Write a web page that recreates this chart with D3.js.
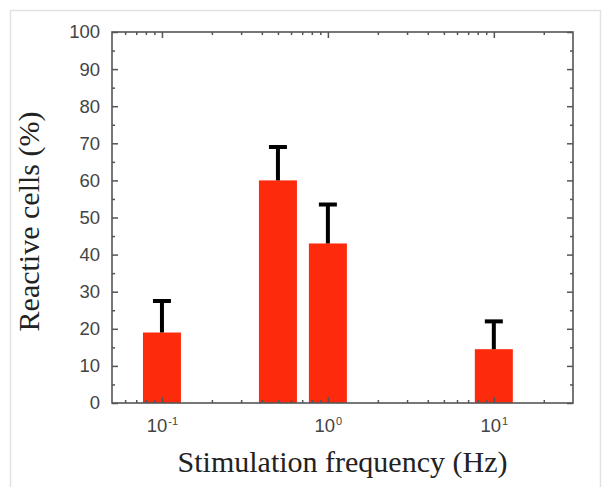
<!DOCTYPE html>
<html>
<head>
<meta charset="utf-8">
<script src="https://cdn.jsdelivr.net/npm/d3@7"></script>
<style>
  html, body { margin: 0; padding: 0; background: #fff; }
  svg { display: block; }
</style>
</head>
<body>
<script>
// ---- data ----
const frequencies = [0.1, 0.5, 1, 10];          // Hz
const reactiveCells = [19, 60, 43, 14.5];       // %
const errorUpper = [8.5, 9, 10.5, 7.5];         // %
const yMajorTicks = [0, 10, 20, 30, 40, 50, 60, 70, 80, 90, 100];
const yMinorTicks = [5, 15, 25, 35, 45, 55, 65, 75, 85, 95];
const xMajorTicks = [0.1, 1, 10];
const xMajorExponents = ["-1", "0", "1"];
const xMinorTicks = [0.06, 0.07, 0.08, 0.09, 0.2, 0.3, 0.4, 0.5, 0.6, 0.7, 0.8, 0.9, 2, 3, 4, 5, 6, 7, 8, 9, 20];
const xDomain = [0.05, 30];
const yDomain = [0, 100];

const W = 612, H = 496;
const m = { left: 112, right: 612 - 573, top: 32, bottom: 496 - 403 };

const svg = d3.select("body").append("svg").attr("width", W).attr("height", H);

// outer panel frame (light gray)
svg.append("path")
  .attr("d", "M10.5,487 L10.5,10.5 L600.5,10.5 L600.5,487")
  .attr("fill", "none").attr("stroke", "#e2e2e2").attr("stroke-width", 1.5);

const x = d3.scaleLog().domain(xDomain).range([m.left, W - m.right]);
const y = d3.scaleLinear().domain(yDomain).range([H - m.bottom, m.top]);

const barW = 38;
const red = "#fd2a0b";

// bars
svg.append("g").selectAll("rect").data(frequencies).join("rect")
  .attr("x", (d) => x(d) - barW / 2)
  .attr("width", barW)
  .attr("y", (d, i) => y(reactiveCells[i]))
  .attr("height", (d, i) => y(0) - y(reactiveCells[i]))
  .attr("fill", red);

// error bars (upper only)
const eg = svg.append("g").attr("stroke", "#000").attr("stroke-width", 4);
frequencies.forEach((f, i) => {
  const cx = x(f);
  const top = y(reactiveCells[i] + errorUpper[i]);
  eg.append("line").attr("x1", cx).attr("x2", cx).attr("y1", y(reactiveCells[i])).attr("y2", top);
  eg.append("line").attr("x1", cx - 9).attr("x2", cx + 9).attr("y1", top).attr("y2", top);
});

const axisColor = "#555";
const labelColor = "#444";

function styleAxis(g) {
  g.select(".domain").remove();
  g.selectAll(".tick line").attr("stroke", axisColor).attr("stroke-width", 1.5);
}

// Y axis left major
svg.append("g").attr("transform", `translate(${m.left},0)`)
  .call(d3.axisLeft(y).tickValues(yMajorTicks).tickSize(-6).tickPadding(12).tickFormat(d3.format("d")))
  .call(styleAxis)
  .call(g => g.selectAll("text").attr("fill", labelColor)
    .style("font-family", "Liberation Sans, Arial, sans-serif").style("font-size", "18.5px"));
svg.append("g").attr("transform", `translate(${m.left},0)`)
  .call(d3.axisLeft(y).tickValues(yMinorTicks).tickSize(-3).tickFormat(""))
  .call(styleAxis);
// Y axis right
svg.append("g").attr("transform", `translate(${W - m.right},0)`)
  .call(d3.axisRight(y).tickValues(yMajorTicks).tickSize(-6).tickFormat(""))
  .call(styleAxis);
svg.append("g").attr("transform", `translate(${W - m.right},0)`)
  .call(d3.axisRight(y).tickValues(yMinorTicks).tickSize(-3).tickFormat(""))
  .call(styleAxis);

// X axis bottom
const xb = svg.append("g").attr("transform", `translate(0,${H - m.bottom})`)
  .call(d3.axisBottom(x).tickValues(xMajorTicks).tickSize(-6).tickFormat(""))
  .call(styleAxis);
svg.append("g").attr("transform", `translate(0,${H - m.bottom})`)
  .call(d3.axisBottom(x).tickValues(xMinorTicks).tickSize(-3).tickFormat(""))
  .call(styleAxis);
// X axis top
svg.append("g").attr("transform", `translate(0,${m.top})`)
  .call(d3.axisTop(x).tickValues(xMajorTicks).tickSize(-6).tickFormat(""))
  .call(styleAxis);
svg.append("g").attr("transform", `translate(0,${m.top})`)
  .call(d3.axisTop(x).tickValues(xMinorTicks).tickSize(-3).tickFormat(""))
  .call(styleAxis);

// X tick labels with superscripts
xb.selectAll(".tick").each(function (d, i) {
  const t = d3.select(this).append("text")
    .attr("y", 29)
    .attr("text-anchor", "middle")
    .attr("fill", labelColor)
    .style("font-family", "Liberation Sans, Arial, sans-serif")
    .style("font-size", "18.5px");
  t.append("tspan").text("10");
  t.append("tspan").attr("dx", 1).attr("dy", -7).style("font-size", "11px").text(xMajorExponents[i]);
});

// frame
svg.append("rect")
  .attr("x", m.left).attr("y", m.top)
  .attr("width", W - m.left - m.right).attr("height", H - m.top - m.bottom)
  .attr("fill", "none").attr("stroke", axisColor).attr("stroke-width", 1.6);

// axis titles
svg.append("text")
  .attr("x", (m.left + W - m.right) / 2).attr("y", 472)
  .attr("text-anchor", "middle")
  .attr("fill", "#222")
  .style("font-family", "Liberation Serif, Times New Roman, serif")
  .style("font-size", "30px")
  .text("Stimulation frequency (Hz)");

svg.append("text")
  .attr("transform", `translate(39,${(m.top + H - m.bottom) / 2 + 4}) rotate(-90)`)
  .attr("text-anchor", "middle")
  .attr("fill", "#222")
  .style("font-family", "Liberation Serif, Times New Roman, serif")
  .style("font-size", "30px")
  .text("Reactive cells (%)");
</script>
</body>
</html>
